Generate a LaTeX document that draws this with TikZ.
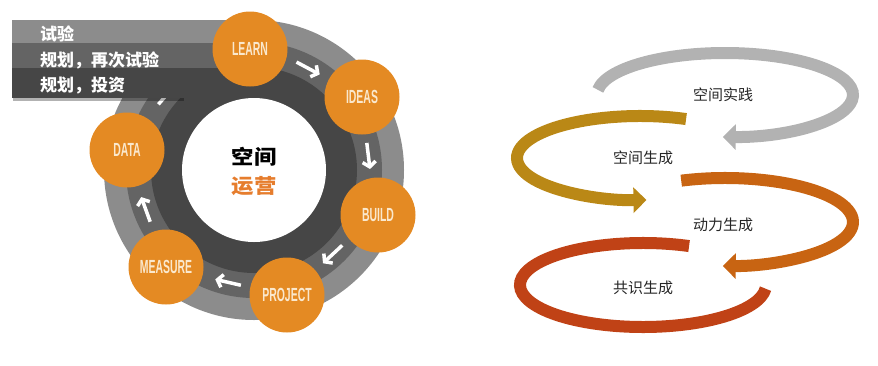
\documentclass[tikz,border=0pt]{standalone}
\usepackage{fontspec}
\setmainfont{Liberation Sans}
\newfontfamily\cjk{Noto Sans CJK SC}
\newfontfamily\condfont[FakeStretch=0.55]{Liberation Sans}
\usetikzlibrary{arrows.meta}
\definecolor{ringlight}{RGB}{140,140,140}
\definecolor{ringmid}{RGB}{100,100,100}
\definecolor{ringdark}{RGB}{70,70,70}
\definecolor{orangec}{RGB}{228,138,35}
\definecolor{creamtxt}{RGB}{250,232,205}
\definecolor{yunying}{RGB}{230,125,45}
\definecolor{loopgray}{RGB}{178,178,178}
\definecolor{loopgold}{RGB}{186,136,22}
\definecolor{looporange}{RGB}{200,100,18}
\definecolor{loopred}{RGB}{192,66,22}
\begin{document}
\begin{tikzpicture}[x=1pt,y=-1pt,
  stage/.style={circle, fill=orangec, minimum size=75pt, inner sep=0pt, text=creamtxt, font=\condfont\bfseries\fontsize{19}{19}\selectfont},
  cyc/.style={white, line width=3.5pt, -{Straight Barb[length=5pt,width=13pt]}},
  band/.style={line width=12pt},
  looplabel/.style={font=\cjk\fontsize{15}{15}\selectfont, text=black!85},
  bannertext/.style={font=\cjk\bfseries\fontsize{17}{17}\selectfont, text=white, anchor=west, inner sep=0pt},
  hubtext/.style={font=\cjk\bfseries\fontsize{20}{20}\selectfont, inner sep=0pt}
]
\useasboundingbox (0,0) rectangle (878,365);
% ring
\coordinate (O) at (254,170);
\fill[ringlight] (O) circle[radius=150];
\fill[ringmid] (O) circle[radius=128];
\fill[ringdark] (O) circle[radius=103];
\node[circle, fill=white, minimum size=144pt, inner sep=0pt] (hub) at (O) {};
% cycle arrows
\foreach \a [count=\i] in {-62,-7,47,103,160,221} {
  \coordinate (s\i) at ([shift={({\a-6.5}:116)}]O);
  \coordinate (e\i) at ([shift={({\a+6.5}:116)}]O);
  \draw[cyc] (s\i) -- (e\i);
}
% banner
\fill[black, opacity=0.3] (13,22) rectangle (184,100.5);
\fill[ringlight] (12,20) rectangle (254,43);
\fill[ringmid] (12,43) rectangle (254,68);
\fill[ringdark] (12,68) rectangle (254,98);
\node[bannertext] (b1) at (40,34) {试验};
\node[bannertext] (b2) at (40,60) {规划，再次试验};
\node[bannertext] (b3) at (40,86) {规划，投资};
% stages
\node[stage] (learn) at (250,49) {LEARN};
\node[stage] (ideas) at (362,97) {IDEAS};
\node[stage] (build) at (378,215) {BUILD};
\node[stage] (project) at (287,295) {PROJECT};
\node[stage] (measure) at (166,267) {MEASURE};
\node[stage] (data) at (127,150) {DATA};
% centre text
\node[hubtext, text=black] (k1) at (254,157) {\scalebox{1.12}[1]{空间}};
\node[hubtext, text=yunying] (k2) at (254,186) {\scalebox{1.12}[1]{运营}};
% right loops
\draw[band, loopgray, -{Triangle[length=13pt,width=25pt]}] ([shift={(187:128 and 42)}]725,95) arc[start angle=187, end angle=451, x radius=128, y radius=42];
\draw[band, loopgold, -{Triangle[length=13pt,width=25pt]}] ([shift={(292:123 and 42)}]640,158) arc[start angle=292, end angle=87, x radius=123, y radius=42];
\draw[band, looporange, -{Triangle[length=13pt,width=25pt]}] ([shift={(250:128 and 44)}]725,222) arc[start angle=250, end angle=451, x radius=128, y radius=44];
\draw[band, loopred] ([shift={(292:123 and 42)}]643,285) arc[start angle=292, end angle=5, x radius=123, y radius=42];
\node[looplabel] (t1) at (723,95) {空间实践};
\node[looplabel] (t2) at (643,158) {空间生成};
\node[looplabel] (t3) at (723,225) {动力生成};
\node[looplabel] (t4) at (643,288) {共识生成};
\end{tikzpicture}
\end{document}
